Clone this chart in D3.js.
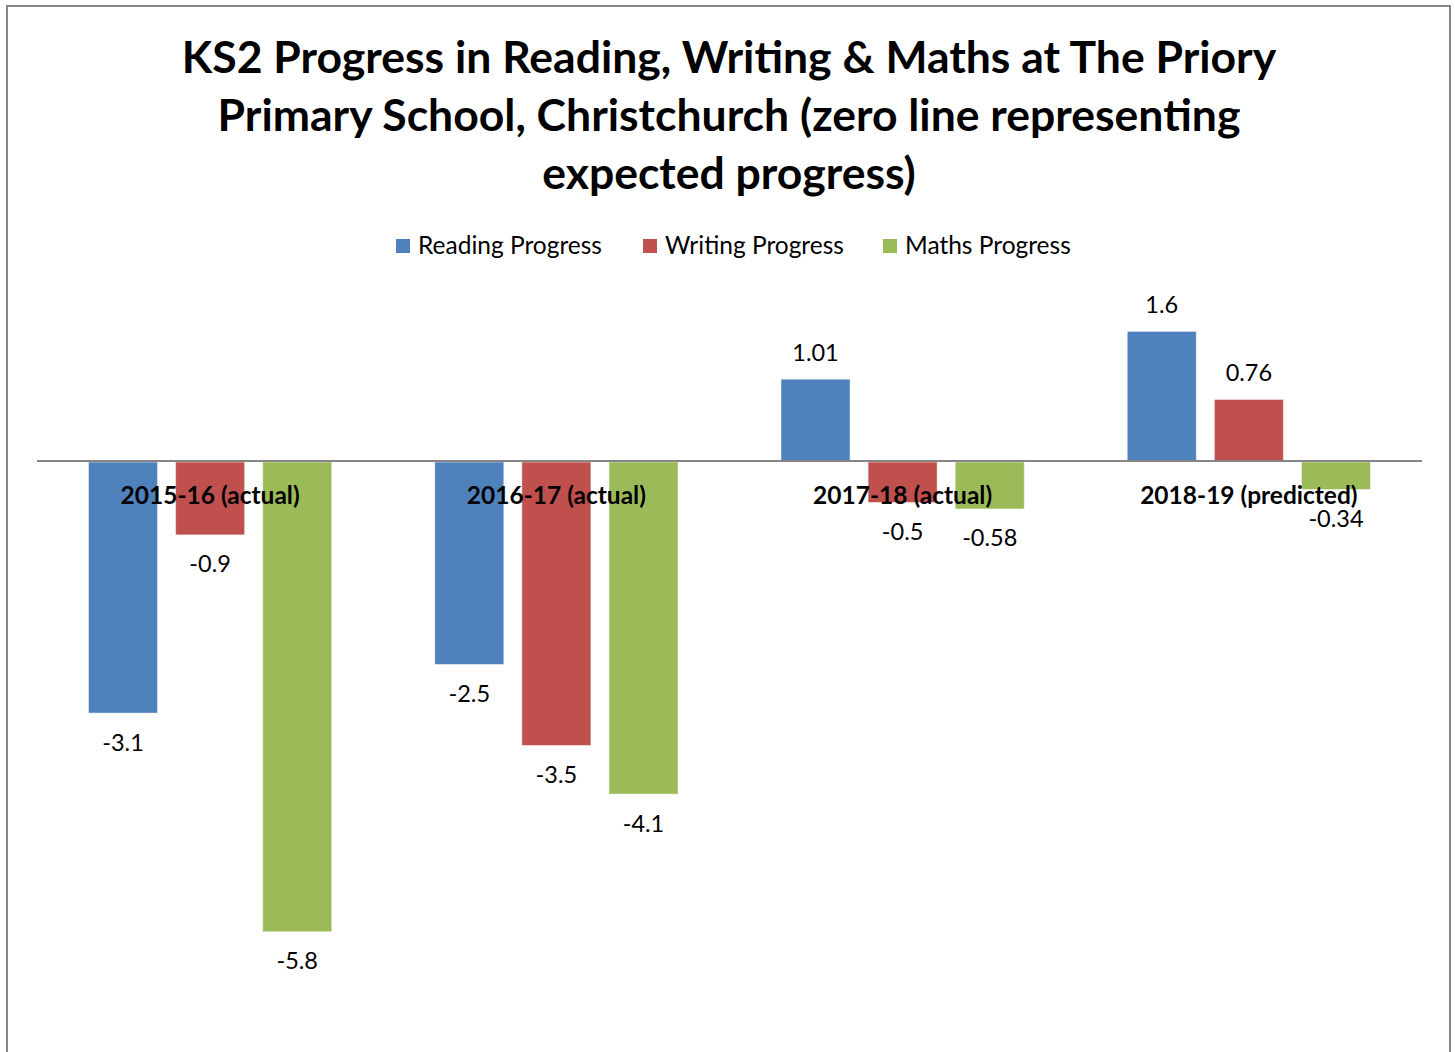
<!DOCTYPE html>
<html>
<head>
<meta charset="utf-8">
<script src="https://cdn.jsdelivr.net/npm/d3@7"></script>
<style>
  body { margin: 0; background: #fff; }
  text { font-family: Lato, "Open Sans", sans-serif; fill: #000; }
</style>
</head>
<body>
<div id="chart"></div>
<script>
var categories = ['2015-16 (actual)', '2016-17 (actual)', '2017-18 (actual)', '2018-19 (predicted)'];
var seriesNames = ['Reading Progress', 'Writing Progress', 'Maths Progress'];
var reading = [-3.1, -2.5, 1.01, 1.6];
var writing = [-0.9, -3.5, -0.5, 0.76];
var maths = [-5.8, -4.1, -0.58, -0.34];
var titleLines = ['KS2 Progress in Reading, Writing & Maths at The Priory',
                  'Primary School, Christchurch (zero line representing',
                  'expected progress)'];

var width = 1455, height = 1052,
    colors = ['#4F81BD', '#C0504D', '#9BBB59'],
    seriesValues = [reading, writing, maths];

var svg = d3.select('#chart')
            .append('svg')
              .attr('width', width)
              .attr('height', height);

// chart frame
svg.append('rect')
   .attr('x', 7).attr('y', 6)
   .attr('width', 1443).attr('height', 1060)
   .attr('fill', '#fff')
   .attr('stroke', '#868686')
   .attr('stroke-width', 2);

svg.selectAll('.title')
   .data(titleLines)
   .enter()
   .append('text')
     .attr('class', 'title')
     .attr('x', 729)
     .attr('y', function(d, i) { return 73 + i * 58; })
     .attr('text-anchor', 'middle')
     .style('font-weight', 'bold')
     .style('font-size', '44.5px')
     .text(function(d) { return d; });

// legend
var legendX = [396, 643, 883];
var legend = svg.selectAll('.legend-key')
                .data(seriesNames)
                .enter()
                .append('g')
                .attr('class', 'legend-key')
                .attr('transform', function(d, i) { return 'translate(' + legendX[i] + ',239)'; });
legend.append('rect')
      .attr('width', 14)
      .attr('height', 14)
      .attr('fill', function(d, i) { return colors[i]; });
legend.append('text')
      .attr('x', 22)
      .attr('y', 15)
      .style('font-size', '24.5px')
      .text(function(d) { return d; });

// scales
var y = d3.scaleLinear().domain([-7, 2]).range([1028, 299]);
var x0 = d3.scaleBand().domain(categories).range([37, 1422]).padding(0);
var bw = x0.bandwidth();
var x1 = d3.scaleBand().domain(seriesNames)
           .range([bw * 0.1487, bw * 0.8513])
           .paddingInner(0.207).paddingOuter(0);

var rows = [];
categories.forEach(function(c, ci) {
  seriesNames.forEach(function(s, si) {
    rows.push({ cat: c, series: s, si: si, value: seriesValues[si][ci] });
  });
});

svg.selectAll('.bar')
   .data(rows)
   .enter()
   .append('rect')
     .attr('class', 'bar')
     .attr('x', function(d) { return x0(d.cat) + x1(d.series); })
     .attr('width', x1.bandwidth())
     .attr('y', function(d) { return d.value >= 0 ? y(d.value) : y(0) + 1; })
     .attr('height', function(d) { return Math.abs(y(d.value) - y(0)); })
     .attr('fill', function(d) { return colors[d.si]; })
     .attr('stroke', '#ffffff')
     .attr('stroke-opacity', 0.5)
     .attr('stroke-width', 1);

// zero line
svg.append('line')
   .attr('x1', 37).attr('x2', 1422)
   .attr('y1', y(0)).attr('y2', y(0))
   .attr('stroke', '#868686')
   .attr('stroke-width', 2);

// value labels
svg.selectAll('.value')
   .data(rows)
   .enter()
   .append('text')
     .attr('class', 'value')
     .attr('x', function(d) { return x0(d.cat) + x1(d.series) + x1.bandwidth() / 2; })
     .attr('y', function(d) { return d.value >= 0 ? y(d.value) - 27 : y(d.value) + 30; })
     .attr('dy', '0.36em')
     .attr('text-anchor', 'middle')
     .style('font-size', '23.5px')
     .text(function(d) { return d.value; });

// category labels sit just under the zero line
svg.selectAll('.cat')
   .data(categories)
   .enter()
   .append('text')
     .attr('class', 'cat')
     .attr('x', function(d) { return x0(d) + bw / 2; })
     .attr('y', y(0) + 34)
     .attr('dy', '0.36em')
     .attr('text-anchor', 'middle')
     .style('font-weight', 'bold')
     .style('font-size', '24.5px')
     .text(function(d) { return d; });
</script>
</body>
</html>
